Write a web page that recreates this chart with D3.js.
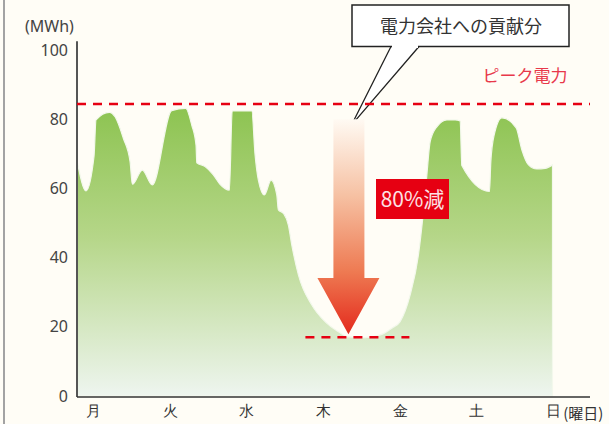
<!DOCTYPE html>
<html lang="ja">
<head>
<meta charset="utf-8">
<title>ピーク電力</title>
<script src="https://d3js.org/d3.v7.min.js"></script>
<style>
  html, body { margin: 0; padding: 0; background: #fffdf6; }
  svg { display: block; font-family: "Noto Sans CJK JP", "Noto Sans", sans-serif; }
</style>
</head>
<body>
<div id="chart"></div>
<script>
// chart data (days: 0 = 月 ... 6 = 日)
var days = ["月", "火", "水", "木", "金", "土", "日"];
var yTicks = [0, 20, 40, 60, 80, 100];
var loadDay = [-0.205, -0.091, 0.013, 0.039, 0.213, 0.287, 0.395, 0.483, 0.513, 0.643, 0.773,
  1.026, 1.209, 1.287, 1.343, 1.353, 1.461, 1.569, 1.656, 1.778, 1.815,
  2.070, 2.113, 2.156, 2.234, 2.322, 2.396, 2.417, 2.482, 2.547, 2.592, 2.678, 2.853,
  3.026, 3.199, 3.330, 3.548, 3.765, 3.896,
  4.004, 4.135, 4.243, 4.308, 4.353, 4.396, 4.483, 4.613, 4.722, 4.787, 4.809,
  5.169, 5.187, 5.230, 5.331, 5.517, 5.592, 5.678, 5.787, 5.895, 5.991];
var loadMWh = [67.7, 59.3, 69.3, 79.8, 82, 80.7, 74.5, 67.7, 61.2, 65.3, 61,
  82.5, 83.1, 78.3, 72.5, 67.4, 66.3, 63.9, 61.2, 59.5, 82.4,
  82.4, 69.7, 62.4, 58.1, 62.4, 58.1, 53.8, 52.8, 49.4, 43.6, 35, 26.3,
  21.5, 18.6, 17.1, 16.9, 17.8, 19.6,
  21.5, 29.2, 40.8, 53.3, 63.9, 73.5, 77.8, 79.8, 79.8, 79.5, 66.6,
  59.1, 67.7, 75.4, 80.4, 77.5, 71.1, 66.8, 65.6, 65.8, 66.8];
var peakMWh = 84.4;
var reducedMWh = 17;
var arrowFrom = 80;
var arrowDay = 3.33;
var cutLabel = "80%減";
var calloutLabel = "電力会社への貢献分";
var peakLabel = "ピーク電力";

var width = 609, height = 424;
var svg = d3.select("#chart").append("svg")
  .attr("width", width)
  .attr("height", height);

svg.append("rect").attr("width", width).attr("height", height).attr("fill", "#fffdf6");
// frame line on the left
svg.append("line")
  .attr("x1", 4).attr("x2", 4).attr("y1", 0).attr("y2", height)
  .attr("stroke", "#a3a3a3").attr("stroke-width", 2);

var x = d3.scaleLinear().domain([-0.209, 6.48]).range([77, 590]);
var y = d3.scaleLinear().domain([0, 100]).range([396, 50]);

var data = loadDay.map(function(d, i) { return {day: d, v: loadMWh[i]}; });

var defs = svg.append("defs");
var gGreen = defs.append("linearGradient")
  .attr("id", "green").attr("gradientUnits", "userSpaceOnUse")
  .attr("x1", 0).attr("x2", 0).attr("y1", y(84)).attr("y2", y(0));
gGreen.append("stop").attr("offset", 0).attr("stop-color", "#8cc350");
gGreen.append("stop").attr("offset", 0.45).attr("stop-color", "#b5d688");
gGreen.append("stop").attr("offset", 1).attr("stop-color", "#eef5ef");

var gArrow = defs.append("linearGradient")
  .attr("id", "arrowGrad").attr("gradientUnits", "userSpaceOnUse")
  .attr("x1", 0).attr("x2", 0).attr("y1", y(arrowFrom)).attr("y2", y(reducedMWh));
gArrow.append("stop").attr("offset", 0).attr("stop-color", "#fffaf3");
gArrow.append("stop").attr("offset", 0.35).attr("stop-color", "#f6c1a3");
gArrow.append("stop").attr("offset", 0.7).attr("stop-color", "#ee7a52");
gArrow.append("stop").attr("offset", 1).attr("stop-color", "#e3261a");

// load area
var area = d3.area()
  .x(function(d) { return x(d.day); })
  .y0(y(0))
  .y1(function(d) { return y(d.v); })
  .curve(d3.curveMonotoneX);

svg.append("path")
  .datum(data)
  .attr("d", area)
  .attr("fill", "url(#green)")
  .attr("stroke", "#f3f8ec")
  .attr("stroke-width", 1.2);

// axes
var yAxis = svg.append("g")
  .attr("transform", "translate(" + x(-0.209) + ",0)")
  .call(d3.axisLeft(y).tickValues(yTicks).tickSize(0).tickPadding(9));
yAxis.select(".domain").remove();
yAxis.selectAll("text")
  .attr("font-size", 16).attr("fill", "#444")
  .attr("font-family", "\"Noto Sans\", sans-serif");

svg.append("line")
  .attr("x1", x(-0.209)).attr("x2", x(-0.209))
  .attr("y1", y(102.5)).attr("y2", y(0) + 1)
  .attr("stroke", "#555").attr("stroke-width", 2);

var xAxis = svg.append("g")
  .attr("transform", "translate(0," + y(0) + ")")
  .call(d3.axisBottom(x).tickValues(d3.range(days.length)).tickSize(0).tickPadding(9)
    .tickFormat(function(d) { return days[d]; }));
xAxis.select(".domain").remove();
xAxis.selectAll("text").attr("font-size", 15).attr("fill", "#333");

svg.append("line")
  .attr("x1", x(-0.209)).attr("x2", x(6.48))
  .attr("y1", y(0) + 1).attr("y2", y(0) + 1)
  .attr("stroke", "#333").attr("stroke-width", 1.5);

svg.append("text")
  .attr("x", x(6) + 10).attr("y", y(0) + 23)
  .attr("font-size", 15).attr("fill", "#333")
  .text("(曜日)");

svg.append("text")
  .attr("x", 25).attr("y", 32)
  .attr("font-size", 16).attr("fill", "#444")
  .attr("font-family", "\"Noto Sans\", sans-serif")
  .text("(MWh)");

// callout box
var tip = [x(arrowDay) + 3, y(arrowFrom) + 6];
svg.append("path")
  .attr("d", "M391,46.5 L" + tip[0] + "," + tip[1] + " L419,46.5")
  .attr("fill", "#fff").attr("stroke", "#222").attr("stroke-width", 1.3);
svg.append("rect")
  .attr("x", 352).attr("y", 5).attr("width", 217).attr("height", 41.5)
  .attr("fill", "#fff").attr("stroke", "#222").attr("stroke-width", 1.5);
svg.append("rect")
  .attr("x", 392).attr("y", 44).attr("width", 26).attr("height", 4)
  .attr("fill", "#fff");
svg.append("text")
  .attr("x", 461).attr("y", 33)
  .attr("text-anchor", "middle")
  .attr("font-size", 18).attr("fill", "#333")
  .text(calloutLabel);

// peak line
svg.append("line")
  .attr("x1", x(-0.209)).attr("x2", x(6.48))
  .attr("y1", y(peakMWh)).attr("y2", y(peakMWh))
  .attr("stroke", "#e60012").attr("stroke-width", 2.5)
  .attr("stroke-dasharray", "9,7");

svg.append("text")
  .attr("x", 525).attr("y", 82)
  .attr("text-anchor", "middle")
  .attr("font-size", 17).attr("fill", "#e8384a")
  .text(peakLabel);

// reduced level line
svg.append("line")
  .attr("x1", x(arrowDay) - 43).attr("x2", x(arrowDay) + 61)
  .attr("y1", y(reducedMWh)).attr("y2", y(reducedMWh))
  .attr("stroke", "#e60012").attr("stroke-width", 2.5)
  .attr("stroke-dasharray", "9,7");

// arrow
var ax = x(arrowDay), aTop = y(arrowFrom), aTip = y(reducedMWh) - 3;
var arrowPath = [
  [ax - 15, aTop], [ax + 16, aTop], [ax + 16, 278], [ax + 31, 278],
  [ax, aTip], [ax - 31, 278], [ax - 15, 278]
];
svg.append("path")
  .attr("d", d3.line()(arrowPath) + "Z")
  .attr("fill", "url(#arrowGrad)");

// 80% label
svg.append("rect")
  .attr("x", 376).attr("y", 179).attr("width", 73).attr("height", 40)
  .attr("fill", "#e60012");
svg.append("text")
  .attr("x", 412.5).attr("y", 206.5)
  .attr("text-anchor", "middle")
  .attr("font-size", 21).attr("fill", "#fde0e4")
  .text(cutLabel);
</script>
</body>
</html>
